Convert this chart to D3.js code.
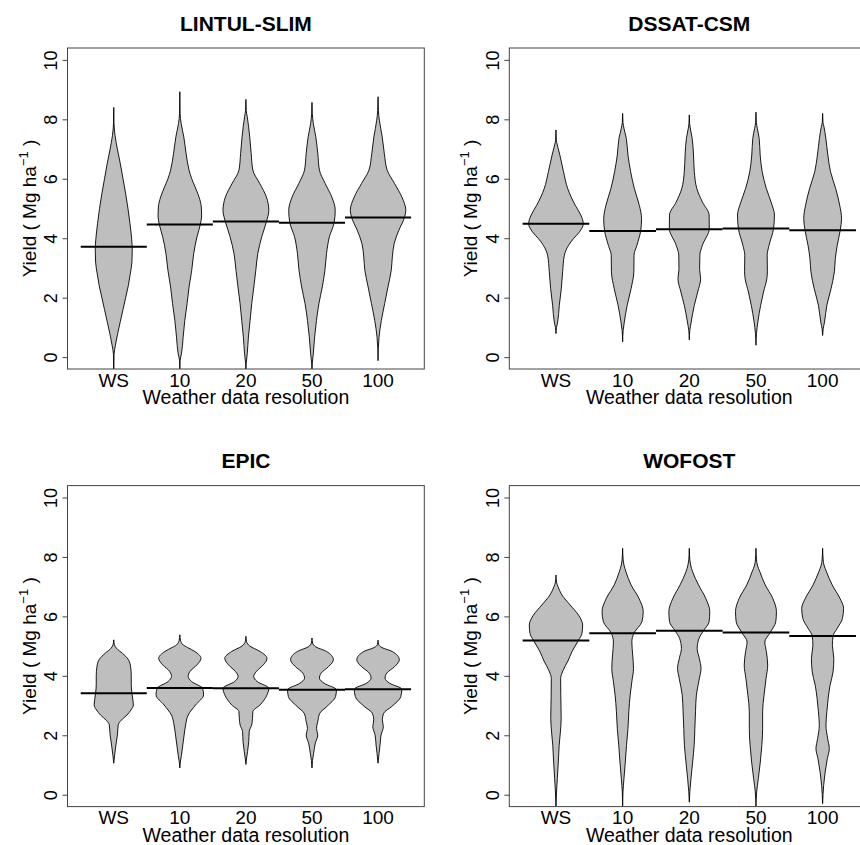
<!DOCTYPE html>
<html>
<head>
<meta charset="utf-8">
<script src="https://cdn.jsdelivr.net/npm/d3@7"></script>
<style>
  html, body { margin: 0; padding: 0; background: #fff; }
  svg { display: block; }
  text { font-family: "Liberation Sans", Arial, Helvetica, sans-serif; fill: #000; }
</style>
</head>
<body>
<svg id="chart" width="860" height="845"></svg>
<script>
// ---- data -------------------------------------------------------------
const models = ["LINTUL-SLIM", "DSSAT-CSM", "EPIC", "WOFOST"];
const resolutions = ["WS", "10", "20", "50", "100"];
const yTicks = [0, 2, 4, 6, 8, 10];
const xTitle = "Weather data resolution";

// mean yield per resolution (Mg/ha)
const meanLintul = [3.71, 4.46, 4.56, 4.52, 4.70];
const meanDssat  = [4.49, 4.24, 4.30, 4.33, 4.27];
const meanEpic   = [3.41, 3.59, 3.58, 3.53, 3.55];
const meanWofost = [5.19, 5.43, 5.52, 5.46, 5.34];

// bean density profiles: [yield, scaled density] from the upper to the lower tail
const densLintul = [
  [[8.40,0],[7.9,0.003],[7.45,0.02],[7.0,0.055],[6.5,0.10],[6.0,0.14],[5.5,0.18],[5.0,0.215],[4.5,0.245],[4.0,0.27],[3.6,0.28],[3.2,0.275],[2.8,0.25],[2.4,0.22],[2.0,0.18],[1.6,0.14],[1.2,0.10],[0.8,0.06],[0.4,0.025],[0.1,0.005],[-0.45,0]],
  [[8.93,0],[8.2,0.004],[7.86,0.02],[7.41,0.06],[6.85,0.095],[6.29,0.14],[6.0,0.18],[5.73,0.23],[5.39,0.29],[5.05,0.325],[4.75,0.33],[4.46,0.31],[4.05,0.26],[3.48,0.21],[2.92,0.18],[2.36,0.14],[1.80,0.11],[1.23,0.075],[0.67,0.05],[0.11,0.025],[-0.1,0.005],[-0.45,0]],
  [[8.67,0],[8.3,0.005],[8.09,0.02],[7.41,0.058],[6.85,0.08],[6.29,0.105],[5.84,0.21],[5.39,0.31],[4.94,0.347],[4.55,0.31],[4.05,0.24],[3.48,0.18],[2.92,0.15],[2.36,0.12],[1.80,0.088],[1.23,0.063],[0.67,0.038],[0.11,0.02],[-0.2,0.005],[-0.45,0]],
  [[8.57,0],[8.2,0.005],[7.86,0.02],[7.41,0.058],[6.85,0.088],[6.29,0.113],[5.84,0.2],[5.39,0.30],[4.94,0.352],[4.51,0.334],[4.05,0.264],[3.48,0.22],[2.92,0.196],[2.36,0.156],[1.80,0.105],[1.23,0.068],[0.67,0.04],[0.11,0.02],[-0.2,0.005],[-0.45,0]],
  [[8.76,0],[8.3,0.005],[7.97,0.02],[7.41,0.063],[6.85,0.095],[6.29,0.138],[5.84,0.25],[5.39,0.36],[4.94,0.42],[4.70,0.40],[4.27,0.315],[3.82,0.244],[3.37,0.216],[2.92,0.2],[2.36,0.15],[1.80,0.10],[1.23,0.05],[0.67,0.015],[0.3,0.004],[-0.12,0]]
];
const densDssat = [
  [[7.64,0],[7.3,0.005],[7.14,0.02],[6.80,0.058],[6.24,0.113],[5.67,0.176],[5.11,0.289],[4.78,0.372],[4.49,0.41],[4.21,0.352],[3.98,0.26],[3.76,0.189],[3.43,0.126],[2.87,0.10],[2.30,0.08],[1.74,0.05],[1.18,0.025],[1.0,0.008],[0.79,0]],
  [[8.20,0],[7.9,0.005],[7.7,0.02],[7.36,0.055],[6.80,0.08],[6.24,0.12],[5.67,0.176],[5.11,0.25],[4.66,0.284],[4.24,0.27],[3.76,0.214],[3.43,0.171],[2.87,0.168],[2.30,0.126],[1.74,0.068],[1.18,0.025],[0.9,0.008],[0.51,0]],
  [[8.15,0],[7.85,0.005],[7.64,0.02],[7.36,0.043],[6.80,0.063],[6.24,0.075],[5.67,0.113],[5.22,0.196],[4.78,0.297],[4.33,0.30],[3.76,0.196],[3.43,0.158],[2.95,0.155],[2.64,0.17],[2.19,0.126],[1.74,0.075],[1.18,0.028],[0.9,0.008],[0.58,0]],
  [[8.24,0],[7.9,0.005],[7.7,0.02],[7.36,0.048],[6.80,0.063],[6.24,0.093],[5.67,0.156],[5.22,0.226],[4.78,0.277],[4.33,0.264],[3.76,0.196],[3.43,0.168],[2.87,0.171],[2.64,0.163],[2.19,0.113],[1.74,0.07],[1.18,0.028],[0.8,0.008],[0.40,0]],
  [[8.20,0],[7.9,0.005],[7.75,0.02],[7.36,0.048],[6.80,0.078],[6.24,0.118],[5.67,0.196],[5.11,0.256],[4.66,0.284],[4.27,0.264],[3.76,0.219],[3.31,0.19],[2.87,0.176],[2.30,0.126],[1.74,0.063],[1.18,0.028],[0.95,0.008],[0.73,0]]
];
const densEpic = [
  [[5.21,0],[5.05,0.01],[4.93,0.04],[4.76,0.13],[4.55,0.22],[4.3,0.255],[4.0,0.265],[3.7,0.265],[3.41,0.275],[3.02,0.297],[2.85,0.26],[2.68,0.2],[2.5,0.11],[2.35,0.068],[2.01,0.055],[1.67,0.033],[1.33,0.013],[1.06,0]],
  [[5.38,0],[5.2,0.01],[5.04,0.05],[4.95,0.12],[4.82,0.226],[4.59,0.32],[4.37,0.26],[4.14,0.151],[3.98,0.126],[3.81,0.176],[3.58,0.344],[3.36,0.36],[3.02,0.239],[2.68,0.126],[2.35,0.088],[2.01,0.065],[1.67,0.045],[1.33,0.025],[1.1,0.008],[0.9,0]],
  [[5.33,0],[5.15,0.01],[5.0,0.06],[4.82,0.214],[4.59,0.32],[4.37,0.264],[4.14,0.156],[3.98,0.118],[3.81,0.168],[3.58,0.347],[3.36,0.32],[3.02,0.214],[2.80,0.106],[2.57,0.1],[2.35,0.088],[2.12,0.05],[1.78,0.043],[1.45,0.025],[1.2,0.008],[1.02,0]],
  [[5.27,0],[5.1,0.01],[4.97,0.06],[4.82,0.221],[4.54,0.324],[4.31,0.251],[4.09,0.138],[3.92,0.113],[3.75,0.184],[3.53,0.37],[3.30,0.357],[2.97,0.226],[2.74,0.118],[2.46,0.088],[2.23,0.068],[2.01,0.088],[1.73,0.05],[1.39,0.025],[1.15,0.008],[0.9,0]],
  [[5.20,0],[5.05,0.01],[4.95,0.06],[4.82,0.214],[4.54,0.322],[4.31,0.251],[4.09,0.131],[3.92,0.106],[3.75,0.176],[3.55,0.36],[3.30,0.344],[2.97,0.209],[2.74,0.085],[2.52,0.065],[2.29,0.08],[2.01,0.045],[1.67,0.03],[1.39,0.015],[1.06,0]]
];
const densWofost = [
  [[7.39,0],[7.15,0.008],[7.0,0.03],[6.72,0.09],[6.38,0.214],[6.04,0.339],[5.71,0.40],[5.43,0.39],[5.20,0.34],[4.81,0.239],[4.5,0.18],[4.2,0.11],[3.91,0.07],[3.35,0.072],[2.56,0.078],[2.11,0.066],[1.66,0.048],[1.10,0.035],[0.54,0.02],[0.09,0.008],[-0.45,0]],
  [[8.29,0],[7.9,0.008],[7.73,0.02],[7.50,0.05],[7.06,0.126],[6.61,0.244],[6.16,0.309],[5.82,0.289],[5.44,0.171],[5.14,0.138],[4.70,0.151],[4.25,0.163],[3.80,0.138],[3.35,0.113],[2.79,0.093],[2.22,0.08],[1.66,0.058],[1.10,0.04],[0.54,0.02],[0.09,0.005],[-0.45,0]],
  [[8.29,0],[7.9,0.008],[7.73,0.02],[7.50,0.05],[7.06,0.138],[6.61,0.246],[6.16,0.307],[5.82,0.297],[5.52,0.214],[5.26,0.146],[4.92,0.118],[4.58,0.151],[4.25,0.176],[3.91,0.151],[3.35,0.106],[2.79,0.093],[2.22,0.083],[1.66,0.073],[1.10,0.05],[0.54,0.025],[0.1,0.008],[-0.25,0]],
  [[8.29,0],[7.9,0.008],[7.73,0.02],[7.50,0.058],[7.06,0.138],[6.61,0.251],[6.16,0.307],[5.82,0.297],[5.46,0.214],[5.14,0.133],[4.81,0.156],[4.36,0.176],[3.91,0.151],[3.35,0.121],[2.79,0.1],[2.22,0.1],[1.66,0.088],[1.10,0.065],[0.54,0.035],[0.09,0.01],[-0.45,0]],
  [[8.29,0],[7.9,0.008],[7.73,0.02],[7.50,0.058],[7.06,0.143],[6.61,0.259],[6.27,0.314],[5.93,0.297],[5.60,0.219],[5.34,0.156],[5.03,0.146],[4.58,0.168],[4.13,0.156],[3.68,0.111],[3.24,0.083],[2.79,0.063],[2.34,0.05],[1.89,0.075],[1.55,0.1],[1.21,0.07],[0.76,0.038],[0.31,0.015],[-0.3,0]]
];

const panelMeans = [meanLintul, meanDssat, meanEpic, meanWofost];
const panelDens  = [densLintul, densDssat, densEpic, densWofost];

// ---- layout -----------------------------------------------------------
const columns = [{ left: 67.5, width: 356.8 }, { left: 509.3, width: 360 }];
const rows    = [{ top: 48, height: 321 }, { top: 485.6, height: 321 }];
const beanFill = "#bebebe";

const svg = d3.select("#chart");
const defs = svg.append("defs");

models.forEach((name, p) => {
  const col = columns[p % 2], row = rows[Math.floor(p / 2)];
  const x = d3.scaleLinear().domain([0.3, 5.7]).range([col.left, col.left + col.width]);
  const y = d3.scaleLinear().domain([-0.4, 10.4]).range([row.top + row.height, row.top]);
  const bottom = row.top + row.height;
  const cx = col.left + col.width / 2;

  const g = svg.append("g");

  defs.append("clipPath").attr("id", "clip" + p)
    .append("rect")
    .attr("x", col.left).attr("y", row.top)
    .attr("width", col.width).attr("height", row.height);

  const plot = g.append("g").attr("clip-path", `url(#clip${p})`);

  // beans
  panelDens[p].forEach((prof, i) => {
    const c = i + 1;
    const area = d3.area()
      .curve(d3.curveMonotoneY)
      .y(d => y(d[0]))
      .x0(d => x(c - d[1]))
      .x1(d => x(c + d[1]));
    plot.append("path")
      .attr("d", area(prof))
      .attr("fill", beanFill)
      .attr("stroke", "#000")
      .attr("stroke-width", 0.9)
      .attr("stroke-linejoin", "round");
  });

  // mean lines
  plot.selectAll("line.mean").data(panelMeans[p]).enter().append("line")
    .attr("class", "mean")
    .attr("x1", (d, i) => x(i + 1 - 0.5))
    .attr("x2", (d, i) => x(i + 1 + 0.5))
    .attr("y1", d => y(d)).attr("y2", d => y(d))
    .attr("stroke", "#000").attr("stroke-width", 2);

  // frame
  g.append("rect")
    .attr("x", col.left).attr("y", row.top)
    .attr("width", col.width).attr("height", row.height)
    .attr("fill", "none").attr("stroke", "#444").attr("stroke-width", 1);

  // y axis
  const yAxis = d3.axisLeft(y).tickValues(yTicks).tickSize(5).tickPadding(0).tickFormat(d3.format("d"));
  const ya = g.append("g").attr("transform", `translate(${col.left},0)`).call(yAxis);
  ya.select(".domain").remove();
  ya.selectAll(".tick line").attr("stroke", "#444");
  ya.selectAll(".tick text")
    .attr("x", null).attr("dy", null)
    .attr("transform", "translate(-10.5,0) rotate(-90)")
    .attr("text-anchor", "middle")
    .style("font-size", "18px")
    .style("font-family", "'Liberation Sans', Arial, sans-serif");

  // x category labels
  g.selectAll("text.xlab").data(resolutions).enter().append("text")
    .attr("class", "xlab")
    .attr("x", (d, i) => x(i + 1))
    .attr("y", bottom + 17.5)
    .attr("text-anchor", "middle")
    .style("font-size", "19px")
    .text(d => d);

  // x title
  g.append("text")
    .attr("x", cx).attr("y", bottom + 35)
    .attr("text-anchor", "middle")
    .style("font-size", "19.5px")
    .text(xTitle);

  // y title with superscript
  const yt = g.append("text")
    .attr("transform", `translate(${col.left - 32},${row.top + row.height / 2}) rotate(-90)`)
    .attr("text-anchor", "middle")
    .style("font-size", "19px");
  yt.append("tspan").text("Yield ( Mg ha");
  yt.append("tspan").attr("dy", -8).style("font-size", "13px").text("\u22121");
  yt.append("tspan").attr("dy", 8).text(" )");

  // panel title
  g.append("text")
    .attr("x", cx).attr("y", row.top - 17.3)
    .attr("text-anchor", "middle")
    .style("font-size", "21px").style("font-weight", "bold")
    .text(name);
});
</script>
</body>
</html>
